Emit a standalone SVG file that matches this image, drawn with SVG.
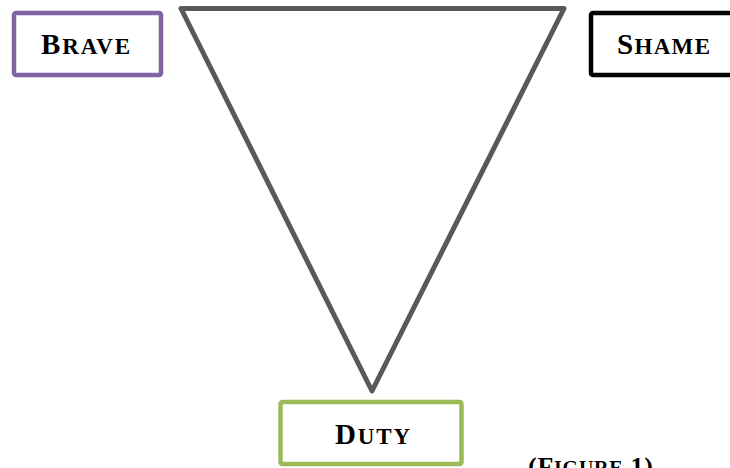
<svg xmlns="http://www.w3.org/2000/svg" width="730" height="468" viewBox="0 0 730 468">
<style>
.box{fill:#fff;stroke-width:4.5;}
.lbl{font-family:"Liberation Serif","Times New Roman",serif;font-weight:bold;fill:#000;}
.big{font-size:29px;}
.sm{font-size:23px;}
</style>
<rect width="730" height="468" fill="#fff"/>
<g id="connectors">
<polygon points="181,8.5 564,8.5 372,391" fill="none" stroke="#595959" stroke-width="5" stroke-linejoin="round"/>
</g>
<g id="brave">
<rect class="box" x="14" y="13" width="147" height="62" rx="2" stroke="#8064a2"/>
<text class="lbl" x="41" y="54" textLength="89" lengthAdjust="spacing"><tspan class="big">B</tspan><tspan class="sm">RAVE</tspan></text>
</g>
<g id="shame">
<rect class="box" x="591" y="13" width="150" height="62" rx="2" stroke="#000"/>
<text class="lbl" x="617" y="54" textLength="93" lengthAdjust="spacing"><tspan class="big">S</tspan><tspan class="sm">HAME</tspan></text>
</g>
<g id="duty">
<rect class="box" x="280.5" y="402" width="181" height="62" rx="2" stroke="#9bbb59" stroke-width="5"/>
<text class="lbl" x="335" y="444" textLength="75" lengthAdjust="spacing"><tspan class="big">D</tspan><tspan class="sm">UTY</tspan></text>
</g>
<g id="caption">
<text class="lbl" x="528" y="475" textLength="125" lengthAdjust="spacing"><tspan font-size="26">(F</tspan><tspan font-size="20">IGURE</tspan><tspan font-size="26"> 1)</tspan></text>
</g>
</svg>
